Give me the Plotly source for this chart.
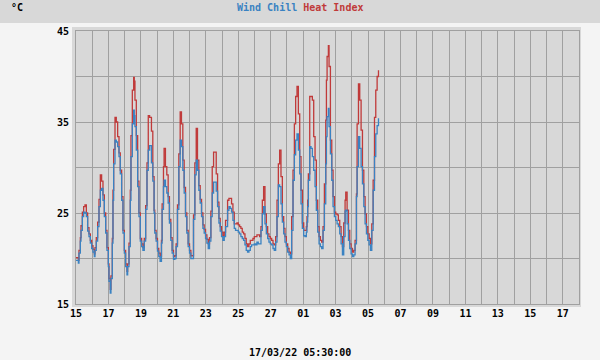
import pandas as pd
import plotly.graph_objects as go

start = pd.Timestamp("2022-02-15 00:00")
axis_end = pd.Timestamp("2022-03-18 00:00")

hours = [
    0, 3.5, 4.4, 6.4, 7.4, 9.4, 11.3, 13.3, 15.3, 17.2, 19.2, 21.2, 23.2, 25.1, 27.1, 28.1,
    30.0, 32.0, 34.0, 36.0, 37.9, 39.9, 41.9, 43.9, 45.8, 47.8, 48.8, 50.7, 51.7, 53.7, 54.7,
    55.7, 57.7, 59.6, 61.6, 63.6, 65.5, 67.5, 69.5, 71.5, 73.4, 75.4, 76.4, 78.4, 80.3, 81.3,
    83.3, 85.3, 86.2, 87.2, 89.2, 91.2, 93.1, 95.1, 97.1, 99.0, 101.0, 103.0, 105.0, 106.9, 108.9,
    111.6, 113.6, 115.5, 116.5, 118.5, 120.5, 122.4, 124.4, 126.4, 127.4, 129.4, 130.3, 132.3,
    134.3, 136.3, 138.2, 140.2, 142.2, 144.2, 146.2, 148.1, 150.1, 152.1, 154.1, 156.0, 158.0,
    160.0, 162.0, 163.9, 165.9, 167.9, 169.9, 171.8, 173.8, 175.8, 177.8, 179.7, 181.7, 183.7,
    185.7, 187.7, 189.6, 191.6, 193.6, 195.6, 197.5, 199.5, 201.5, 203.5, 205.4, 207.4, 209.4,
    211.4, 213.3, 215.3, 217.3, 219.3, 221.2,
    224.2, 226.2, 228.1, 230.1, 232.1, 234.1, 236.0, 238.0, 240.0, 242.0, 243.9, 245.9, 247.9,
    249.9, 251.8, 253.8, 255.8, 257.8, 259.7, 261.7, 263.7, 265.7, 267.6, 269.6, 271.6, 273.6,
    275.6, 277.5, 279.5, 281.5, 283.5, 285.4, 287.4, 289.4, 291.4, 293.3, 295.3, 297.3, 299.3,
    301.2, 303.2, 305.2, 307.2, 309.1, 311.1, 313.1, 315.1, 317.0, 319.0, 321.0, 323.0, 324.9,
    326.9, 328.9, 330.9, 332.8, 334.8,
    336.8, 338.8, 340.7, 341.7, 342.7, 343.7, 345.7, 347.6, 349.6, 351.6, 353.6, 355.5, 357.5,
    359.5, 361.5, 363.4, 365.4, 367.4, 369.4, 370.4, 371.4, 373.3, 374.3, 376.3, 378.3, 380.2,
    382.2, 384.2, 386.2, 388.1, 390.1, 392.1, 394.1, 396.0, 398.0, 399.0, 401.0, 403.0, 404.9,
    406.9, 408.9, 410.9, 412.8, 414.8, 415.8, 417.8, 419.7, 421.7, 423.7, 425.7, 427.6, 429.6,
    431.6, 433.6, 435.5, 437.5, 439.5, 441.5, 443.4, 445.4, 447.4,
]

wind_chill = [
    19.8, 19.5, 20.6, 21.9, 23.1, 24.6, 25.1, 25.0, 24.6, 23.0, 22.4, 21.7, 21.1, 20.7, 20.2, 20.9,
    21.9, 23.5, 25.7, 27.5, 27.7, 26.4, 24.6, 22.8, 20.9, 19.1, 17.5, 16.2, 17.8, 21.7, 26.4,
    30.4, 33.0, 32.8, 32.3, 31.2, 29.3, 26.4, 22.8, 20.6, 19.1, 18.2, 19.1, 21.3, 26.4, 31.2,
    34.8, 36.3, 35.7, 34.5, 31.9, 27.9, 24.6, 21.9, 21.3, 20.9, 21.9, 25.4, 29.7, 31.9, 32.4,
    30.5, 28.5, 25.0, 22.8, 21.9, 20.8, 20.2, 19.7, 21.7, 25.4, 27.9, 28.6, 27.9,
    27.2, 26.1, 23.9, 22.0, 20.6, 19.9, 20.0, 21.3, 25.4, 30.1, 33.0, 32.3, 29.7,
    27.2, 24.6, 22.8, 21.3, 20.6, 20.0, 20.0, 24.3, 29.2, 30.8, 29.7, 27.5, 26.1,
    24.6, 23.3, 22.8, 22.2, 21.7, 21.1, 21.9, 24.6, 27.2, 28.4, 28.4, 27.4, 25.7,
    23.9, 23.0, 22.4, 22.0, 22.4, 23.5,
    25.3, 25.7, 25.5, 25.1, 24.2, 23.3, 23.1, 23.1, 22.9, 22.7, 22.4, 22.2, 22.0,
    21.5, 20.9, 20.7, 20.9, 21.3, 21.5, 21.5, 21.6, 21.5, 21.8, 21.6, 21.6, 23.1,
    24.9, 25.7, 23.8, 22.7, 22.2, 21.8, 21.6, 21.5, 21.1, 20.9, 21.8, 24.6, 28.1,
    27.9, 26.0, 24.0, 22.7, 21.8, 21.3, 20.7, 20.4, 20.0, 23.1, 28.6, 31.4, 33.0,
    33.7, 31.9, 29.3, 26.0, 23.3,
    22.5, 22.4, 22.9, 24.0, 25.7, 28.6, 32.3, 32.1, 31.2, 29.7, 27.9, 25.3, 22.9,
    21.6, 21.3, 21.1, 23.1, 26.0, 30.4, 33.4, 35.6, 36.5, 34.5, 31.5, 28.6, 25.7,
    24.6, 24.2, 23.8, 23.5, 22.7, 21.6, 20.4, 22.4, 25.2, 25.3, 23.8, 22.0, 21.1,
    20.5, 20.2, 20.4, 21.6, 26.8, 30.1, 33.4, 32.1, 30.1, 28.2, 25.7, 23.8, 22.7,
    22.0, 21.5, 20.9, 23.1, 27.5, 31.2, 33.7, 34.6, 35.4,
]

heat_index = [
    20.1, 19.8, 20.9, 22.3, 23.6, 25.1, 25.7, 25.9, 25.0, 23.4, 22.7, 22.0, 21.4, 21.0, 20.5, 21.2,
    22.3, 24.0, 26.5, 29.2, 28.5, 27.0, 25.0, 23.1, 21.2, 19.4, 17.8, 16.6, 18.1, 22.2, 27.5,
    32.0, 35.5, 35.0, 33.4, 31.6, 29.7, 26.8, 23.1, 20.9, 19.4, 18.6, 19.4, 21.7, 27.5, 33.5,
    38.5, 39.9, 39.5, 37.4, 33.5, 28.5, 25.0, 22.2, 21.6, 21.2, 22.2, 25.8, 30.5, 35.7, 35.5,
    34.0, 29.0, 25.3, 23.1, 22.2, 21.1, 20.6, 20.2, 22.0, 26.0, 30.1, 32.1, 30.1,
    29.2, 26.8, 24.3, 22.3, 20.9, 20.2, 20.3, 21.6, 25.9, 31.5, 36.1, 34.8, 30.8,
    27.8, 25.0, 23.1, 21.6, 20.9, 20.3, 20.3, 24.8, 30.5, 34.3, 30.8, 28.0, 26.5,
    25.0, 23.7, 23.2, 22.6, 22.1, 21.6, 22.3, 25.2, 30.1, 31.7, 31.7, 29.3, 26.2,
    24.4, 23.5, 22.9, 22.5, 22.9, 24.2,
    26.4, 26.6, 26.6, 26.0, 25.1, 23.8, 23.8, 23.9, 23.7, 23.5, 23.3, 22.9, 22.7,
    22.2, 21.6, 21.3, 21.6, 22.0, 22.0, 22.2, 22.4, 22.4, 22.6, 22.6, 22.4, 23.5,
    26.4, 27.9, 24.9, 23.5, 22.7, 22.4, 22.2, 22.0, 21.6, 21.5, 22.4, 26.4, 30.4,
    31.9, 29.0, 24.6, 23.3, 22.4, 21.6, 21.1, 20.7, 20.5, 24.6, 29.7, 34.8, 37.8,
    38.9, 35.9, 31.2, 27.5, 23.9,
    23.1, 23.1, 23.5, 24.6, 26.4, 29.3, 37.8, 37.8, 37.4, 33.4, 30.8, 26.4, 23.5,
    22.4, 22.0, 21.8, 23.5, 28.2, 35.2, 39.6, 42.2, 43.4, 41.1, 33.0, 29.7, 26.8,
    25.1, 24.9, 24.8, 24.2, 23.5, 22.4, 21.3, 23.9, 26.4, 27.3, 25.3, 23.1, 21.6,
    21.1, 20.7, 20.9, 22.0, 27.1, 34.8, 39.2, 37.4, 34.1, 29.7, 26.8, 24.9, 23.5,
    22.7, 22.2, 21.6, 23.8, 28.6, 35.5, 38.5, 40.0, 40.7,
]

y_ticks = [15, 20, 25, 30, 35, 40, 45]
y_labels = ["15", "", "25", "", "35", "", "45"]

title_left = "Wind Chill"
title_right = "Heat Index"
unit_label = "°C"
stamp = "17/03/22 05:30:00"

BLUE = "#3a82c2"
RED = "#c03a3a"
GRID = "#a0a0a0"
PANEL = "#d8d8d8"
PAGE = "#f4f4f4"
FONT = dict(family="DejaVu Sans Mono", size=10, color="#000000", weight="bold")

times = [start + pd.Timedelta(hours=h) for h in hours]
days = pd.date_range(start, axis_end, freq="D")
x_ticktext = [d.strftime("%d") if i % 2 == 0 else "" for i, d in enumerate(days)]

W, H = 600, 360
ML, MR, MT, MB = 76, 21, 31, 56
pw, ph = W - ML - MR, H - MT - MB

fig = go.Figure()
fig.add_trace(go.Scatter(x=times, y=heat_index, mode="lines", line=dict(color=RED, width=1.3, shape="hv"),
                         name=title_right, showlegend=False))
fig.add_trace(go.Scatter(x=times, y=wind_chill, mode="lines", line=dict(color=BLUE, width=1.3, shape="hv"),
                         name=title_left, showlegend=False))

# outer panel frame and top banner
fig.add_shape(type="rect", xref="paper", yref="paper", layer="below",
              x0=-4 / pw, x1=1 + 2 / pw, y0=-3 / ph, y1=1 + 4 / ph,
              fillcolor=PANEL, line=dict(width=0))
fig.add_shape(type="rect", xref="paper", yref="paper", layer="below",
              x0=-ML / pw, x1=1 + MR / pw, y0=1 + (MT - 23) / ph, y1=1 + MT / ph,
              fillcolor=PANEL, line=dict(width=0))

fig.add_annotation(xref="paper", yref="paper", x=(300 - ML) / pw, y=1 + (MT - 7) / ph,
                   text=f"<span style='color:{BLUE}'>{title_left}</span> <span style='color:{RED}'>{title_right}</span>",
                   showarrow=False, font=FONT, xanchor="center", yanchor="middle")
fig.add_annotation(xref="paper", yref="paper", x=(9 - ML) / pw, y=1 + (MT - 7) / ph,
                   text=unit_label, showarrow=False, font=FONT, xanchor="left", yanchor="middle")
fig.add_annotation(xref="paper", yref="paper", x=(300 - ML) / pw, y=-(352 - (H - MB)) / ph,
                   text=stamp, showarrow=False, font=FONT, xanchor="center", yanchor="middle")

fig.update_layout(
    width=W, height=H,
    margin=dict(l=ML, r=MR, t=MT, b=MB, pad=0),
    paper_bgcolor=PAGE, plot_bgcolor=PANEL,
    font=FONT,
    xaxis=dict(range=[start, axis_end], tickvals=days, ticktext=x_ticktext, showgrid=True,
               gridcolor=GRID, gridwidth=1, showline=True, linecolor=GRID, linewidth=1, mirror=True,
               ticks="", zeroline=False, tickfont=FONT, fixedrange=True),
    yaxis=dict(range=[15, 45], tickvals=y_ticks, ticktext=y_labels, showgrid=True,
               gridcolor=GRID, gridwidth=1, showline=True, linecolor=GRID, linewidth=1, mirror=True,
               ticks="", zeroline=False, tickfont=FONT, ticklabelstandoff=4, fixedrange=True),
    hovermode=False,
)

fig.write_html("out.html", config={"displayModeBar": False},
               post_script="document.body.style.margin='0';document.body.style.background='#f4f4f4';")
